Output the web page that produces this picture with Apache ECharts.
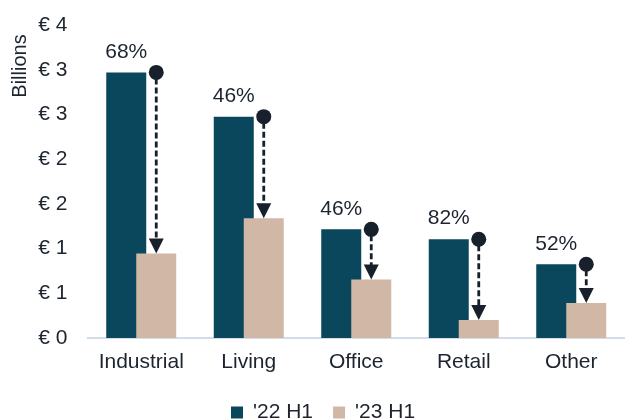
<!DOCTYPE html>
<html>
<head>
<meta charset="utf-8">
<script src="https://cdn.jsdelivr.net/npm/echarts@6/dist/echarts.min.js"></script>
<style>
	html, body {margin: 0; padding: 0; background: #fff;}
	#main {width: 625px; height: 419px;}
</style>
</head>
<body>
<div id="main"></div>
<script>
// data (billions of euros)
let categories = ['Industrial', 'Living', 'Office', 'Retail', 'Other']
let h1_22 = [2.97, 2.475, 1.215, 1.105, 0.825]
let h1_23 = [0.945, 1.34, 0.655, 0.2, 0.39]
let dropLabels = ['68%', '46%', '46%', '82%', '52%']
let seriesNames = ["'22 H1", "'23 H1"]

let font = "'Liberation Sans', Arial, sans-serif"
let fontSize = 21
let textColor = '#1c2430'
let barWidth = 40
let barGap = -0.25

let chart = echarts.init(document.getElementById('main'))

// arrow from the '22 level down to the '23 bar, drawn over the light bar
let arrowData = categories.map((c, i) => [i, h1_22[i], h1_23[i]])

function renderArrow(params, api) {
	let i = api.value(0)
	let top = api.coord([i, api.value(1)])
	let bottom = api.coord([i, api.value(2)])
	let x = top[0] + barWidth * (1 + barGap) / 2
	let head = 15
	return {
		type: 'group',
		children: [{
			type: 'line',
			shape: {x1: x, y1: top[1] + 6, x2: x, y2: bottom[1] - head + 1},
			style: {stroke: '#17202b', lineWidth: 2.8, lineDash: [6, 3]}
		}, {
			type: 'polygon',
			shape: {points: [[x - 7.5, bottom[1] - head], [x + 7.5, bottom[1] - head], [x, bottom[1]]]},
			style: {fill: '#17202b'}
		}, {
			type: 'circle',
			shape: {cx: x, cy: top[1], r: 7.5},
			style: {fill: '#17202b'}
		}]
	}
}

let option = {
	animation: false,
	textStyle: {fontFamily: font},
	grid: {left: 87.5, right: -7.5, top: 25, bottom: 81},
	legend: {
		data: seriesNames,
		left: 231,
		top: 402,
		padding: 0,
		icon: 'rect',
		itemWidth: 12,
		itemHeight: 12,
		itemGap: 20,
		textStyle: {fontSize: fontSize, color: textColor, fontFamily: font, padding: [0, 0, 0, 5]}
	},
	graphic: [{
		type: 'text',
		x: 20,
		y: 66,
		rotation: Math.PI / 2,
		style: {text: 'Billions', fontSize: 20, fontFamily: font, fill: textColor, align: 'center', verticalAlign: 'middle'}
	}],
	xAxis: {
		type: 'category',
		data: categories,
		axisLine: {lineStyle: {color: '#d3dde8', width: 2}},
		axisTick: {show: false},
		axisLabel: {fontSize: fontSize, color: textColor, margin: 14, interval: 0, hideOverlap: false}
	},
	yAxis: {
		type: 'value',
		min: 0,
		max: 3.5,
		interval: 0.5,
		splitLine: {show: false},
		axisLine: {show: false},
		axisTick: {show: false},
		axisLabel: {
			fontSize: fontSize,
			color: textColor,
			margin: 20,
			formatter: v => '€ ' + Math.round(v)
		}
	},
	series: [{
		name: seriesNames[0],
		type: 'bar',
		data: h1_22,
		barWidth: barWidth,
		barGap: (barGap * 100) + '%',
		itemStyle: {color: '#0b475c'},
		label: {
			show: true,
			position: 'top',
			distance: 10,
			fontSize: fontSize,
			color: textColor,
			formatter: p => dropLabels[p.dataIndex]
		}
	}, {
		name: seriesNames[1],
		type: 'bar',
		data: h1_23,
		barWidth: barWidth,
		itemStyle: {color: '#d1b7a5'}
	}, {
		type: 'custom',
		data: arrowData,
		renderItem: renderArrow,
		z: 5,
		silent: true
	}]
}
chart.setOption(option)
</script>
</body>
</html>
